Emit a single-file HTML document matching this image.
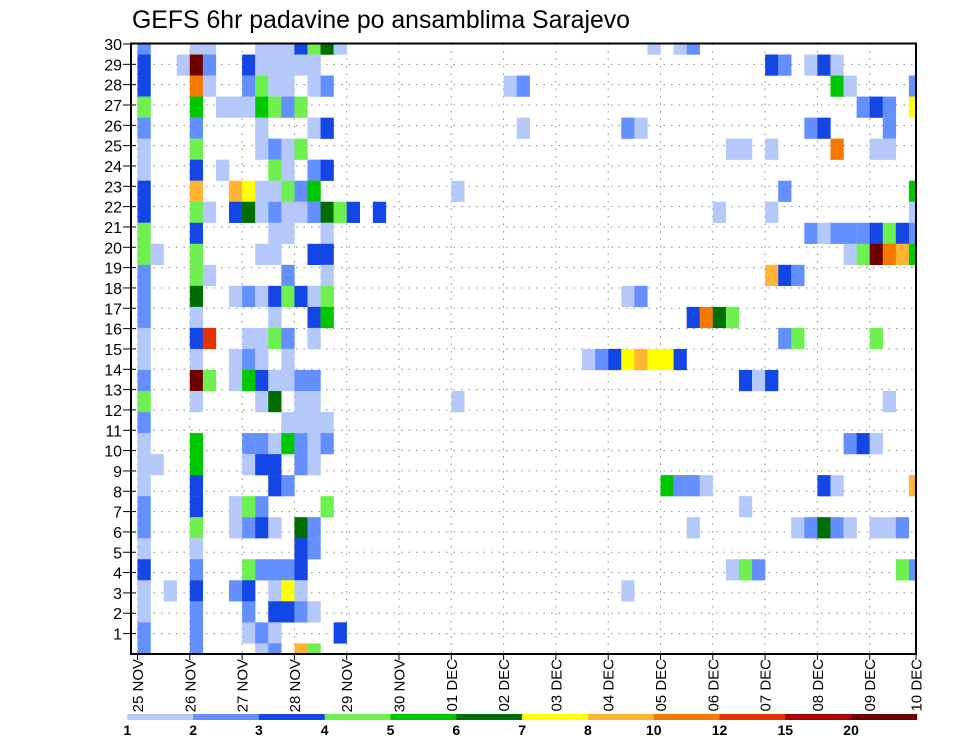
<!DOCTYPE html>
<html><head><meta charset="utf-8"><title>GEFS 6hr padavine</title>
<style>
html,body{margin:0;padding:0;background:#fff;}
svg{display:block;font-family:"Liberation Sans",sans-serif;}
</style></head>
<body>
<svg id="chart" width="960" height="742" viewBox="0 0 960 742" xmlns="http://www.w3.org/2000/svg">
<text x="132" y="28" font-size="25" textLength="498" lengthAdjust="spacingAndGlyphs" fill="#000">GEFS 6hr padavine po ansamblima Sarajevo</text>
<defs><clipPath id="plotclip"><rect x="131" y="43.5" width="785" height="610.5"/></clipPath></defs>
<g id="grid"></g>
<g id="cells" clip-path="url(#plotclip)"></g>
<g id="axes"></g>
<g id="colorbar"></g>
</svg>
<script>
// ---- data ----
const dayLabels = ["25 NOV","26 NOV","27 NOV","28 NOV","29 NOV","30 NOV","01 DEC","02 DEC","03 DEC","04 DEC","05 DEC","06 DEC","07 DEC","08 DEC","09 DEC","10 DEC"];
const memberLabels = [30,29,28,27,26,25,24,23,22,21,20,19,18,17,16,15,14,13,12,11,10,9,8,7,6,5,4,3,2,1];
const levelBounds = [1,2,3,4,5,6,7,8,10,12,15,20];
const levelColors = ["#b4c8fa","#6490ff","#1446e6","#6ef050","#00c800","#006e00","#ffff00","#ffb432","#f57800","#e63200","#aa0000","#6e0000"];
// each row (top to bottom): [6-hour step index, precipitation mm]
const rowCells = [
[[0,2.5],[4,1.5],[5,1.5],[9,1.5],[10,1.5],[11,1.5],[12,3.5],[13,4.5],[14,6.5],[15,1.5],[39,1.5],[41,1.5],[42,2.5]],
[[0,3.5],[3,1.5],[4,22],[5,2.5],[8,3.5],[9,1.5],[10,1.5],[11,1.5],[12,1.5],[13,1.5],[48,3.5],[49,2.5],[51,1.5],[52,3.5],[53,1.5]],
[[0,3.5],[4,11],[5,1.5],[8,2.5],[9,4.5],[10,1.5],[11,1.5],[13,1.5],[14,2.5],[28,1.5],[29,2.5],[53,5.5],[54,1.5],[59,2.5]],
[[0,4.5],[4,5.5],[6,1.5],[7,1.5],[8,1.5],[9,5.5],[10,4.5],[11,2.5],[12,4.5],[55,2.5],[56,3.5],[57,2.5],[59,7.5]],
[[0,2.5],[4,2.5],[9,1.5],[13,1.5],[14,3.5],[29,1.5],[37,2.5],[38,1.5],[51,2.5],[52,3.5],[57,2.5]],
[[0,1.5],[4,4.5],[9,1.5],[10,2.5],[11,1.5],[12,4.5],[45,1.5],[46,1.5],[48,1.5],[53,11],[56,1.5],[57,1.5]],
[[0,1.5],[4,3.5],[6,1.5],[10,4.5],[11,1.5],[13,2.5],[14,3.5]],
[[0,3.5],[4,9],[7,9],[8,7.5],[9,1.5],[10,1.5],[11,4.5],[12,2.5],[13,5.5],[24,1.5],[49,2.5],[59,5.5]],
[[0,3.5],[4,4.5],[5,1.5],[7,3.5],[8,6.5],[9,1.5],[10,2.5],[11,1.5],[12,1.5],[13,2.5],[14,6.5],[15,4.5],[16,3.5],[18,3.5],[44,1.5],[48,1.5],[59,1.5]],
[[0,4.5],[4,3.5],[10,1.5],[11,1.5],[14,1.5],[51,2.5],[52,1.5],[53,2.5],[54,2.5],[55,2.5],[56,3.5],[57,4.5],[58,3.5],[59,2.5]],
[[0,4.5],[1,1.5],[4,4.5],[9,1.5],[10,1.5],[13,3.5],[14,3.5],[54,1.5],[55,4.5],[56,22],[57,11],[58,9],[59,5.5]],
[[0,2.5],[4,4.5],[5,1.5],[11,2.5],[14,1.5],[48,9],[49,3.5],[50,2.5]],
[[0,2.5],[4,6.5],[7,1.5],[8,2.5],[9,1.5],[10,3.5],[11,4.5],[12,3.5],[13,1.5],[14,4.5],[37,1.5],[38,2.5]],
[[0,2.5],[4,1.5],[10,1.5],[13,3.5],[14,5.5],[42,3.5],[43,11],[44,6.5],[45,4.5]],
[[0,1.5],[4,3.5],[5,13.5],[8,1.5],[9,1.5],[10,4.5],[11,2.5],[13,1.5],[49,2.5],[50,4.5],[56,4.5]],
[[0,1.5],[4,1.5],[7,1.5],[8,2.5],[9,1.5],[11,1.5],[34,1.5],[35,2.5],[36,3.5],[37,7.5],[38,9],[39,7.5],[40,7.5],[41,3.5]],
[[0,2.5],[4,22],[5,4.5],[7,1.5],[8,5.5],[9,3.5],[10,1.5],[11,1.5],[12,2.5],[13,2.5],[46,3.5],[47,1.5],[48,3.5]],
[[0,4.5],[4,1.5],[9,1.5],[10,6.5],[12,1.5],[13,1.5],[24,1.5],[57,1.5]],
[[0,2.5],[11,1.5],[12,1.5],[13,1.5],[14,1.5]],
[[0,1.5],[4,5.5],[8,2.5],[9,2.5],[10,1.5],[11,5.5],[12,2.5],[13,1.5],[14,2.5],[54,2.5],[55,3.5],[56,1.5]],
[[0,1.5],[1,1.5],[4,5.5],[8,1.5],[9,3.5],[10,3.5],[12,2.5],[13,1.5]],
[[0,1.5],[4,3.5],[10,3.5],[11,2.5],[40,5.5],[41,2.5],[42,2.5],[43,1.5],[52,3.5],[53,1.5],[59,9]],
[[0,2.5],[4,3.5],[7,1.5],[8,4.5],[9,2.5],[14,4.5],[46,1.5]],
[[0,2.5],[4,4.5],[7,1.5],[8,2.5],[9,3.5],[10,1.5],[12,6.5],[13,2.5],[42,1.5],[50,1.5],[51,2.5],[52,6.5],[53,2.5],[54,1.5],[56,1.5],[57,1.5],[58,2.5]],
[[0,1.5],[4,1.5],[12,3.5],[13,2.5]],
[[0,3.5],[4,2.5],[8,4.5],[9,2.5],[10,2.5],[11,2.5],[12,3.5],[45,1.5],[46,4.5],[47,2.5],[58,4.5],[59,2.5]],
[[0,1.5],[2,1.5],[4,3.5],[7,2.5],[8,3.5],[10,1.5],[11,7.5],[12,1.5],[37,1.5]],
[[0,1.5],[4,2.5],[8,2.5],[10,3.5],[11,3.5],[12,2.5],[13,1.5]],
[[0,2.5],[4,2.5],[8,1.5],[9,2.5],[10,1.5],[15,3.5]],
[[0,2.5],[4,2.5],[9,1.5],[10,2.5],[12,9],[13,4.5]]
];

// ---- layout ----
const NS = "http://www.w3.org/2000/svg";
const L = 131, R = 916, T = 43.5, B = 654;
const x0 = 137.5, dayW = 52.3, stepW = dayW / 4;
const rowH = 21.03, rowTop = 44;
function xStep(s){ return x0 + s * stepW; }
function xDay(d){ return x0 + d * dayW; }
function yRow(r){ return rowTop + r * rowH; }
function yTick(i){ return 44 + i * 20.33; }
function colorFor(v){
  let idx = -1;
  for (let i = 0; i < levelBounds.length; i++) if (v >= levelBounds[i]) idx = i;
  return idx < 0 ? null : levelColors[idx];
}
function mk(tag, attrs, parent){
  const el = document.createElementNS(NS, tag);
  for (const k in attrs) el.setAttribute(k, attrs[k]);
  parent.appendChild(el);
  return el;
}

const grid = document.getElementById('grid');
const cells = document.getElementById('cells');
const axes = document.getElementById('axes');
const cbar = document.getElementById('colorbar');

memberLabels.forEach((m, i) => {
  const y = yTick(i);
  const g = mk('line', {x1:L, x2:R, y1:y, y2:y, stroke:'#8c8c8c', 'stroke-width':1, 'stroke-dasharray':'1.5 6'}, grid);
  
  
});
dayLabels.forEach((d, i) => {
  const x = xDay(i);
  if (x >= R - 1) return;
  const g = mk('line', {x1:x, x2:x, y1:T, y2:B, stroke:'#8c8c8c', 'stroke-width':1, 'stroke-dasharray':'1.5 6'}, grid);
  
  
});

rowCells.forEach((row, r) => {
  row.forEach(([s, v]) => {
    const c = colorFor(v);
    if (!c) return;
    const rect = mk('rect', {x:xStep(s), y:yRow(r) - rowH/2, width:stepW + 0.2, height:rowH + 0.2, fill:c}, cells);
    
    
  });
});

const frame = mk('rect', {x:L, y:T, width:R-L, height:B-T, fill:'none', stroke:'#000', 'stroke-width':2}, axes);



memberLabels.forEach((m, i) => {
  const y = yTick(i);
  const t = mk('line', {x1:123, x2:136, y1:y, y2:y, stroke:'#000', 'stroke-width':1}, axes);
  
  
  const lb = mk('text', {x:122, y:y + 6, 'font-size':16, 'text-anchor':'end', fill:'#000'}, axes);
  
  
  lb.textContent = m;
});

dayLabels.forEach((d, i) => {
  let x = xDay(i);
  if (x > R) x = R;
  const t = mk('line', {x1:x, x2:x, y1:B, y2:B + 6, stroke:'#000', 'stroke-width':1}, axes);
  
  
  const lb = mk('text', {x:0, y:0, 'font-size':15, 'text-anchor':'end', fill:'#000',
    transform:'translate(' + (x + 5.5) + ',659) rotate(-90)'}, axes);
  
  
  lb.textContent = d;
});

const cbX = 127.3, cbW = 65.8, cbY = 714, cbH = 6;
levelColors.forEach((c, i) => {
  const r = mk('rect', {x:cbX + i*cbW, y:cbY, width:cbW + 0.3, height:cbH, fill:c}, cbar);
  
  
});
levelBounds.forEach((b, i) => {
  const t = mk('text', {x:cbX + i*cbW, y:735, 'font-size':14, 'font-weight':'bold', 'text-anchor':'middle', fill:'#000'}, cbar);
  
  
  t.textContent = b;
});
</script>
</body></html>
